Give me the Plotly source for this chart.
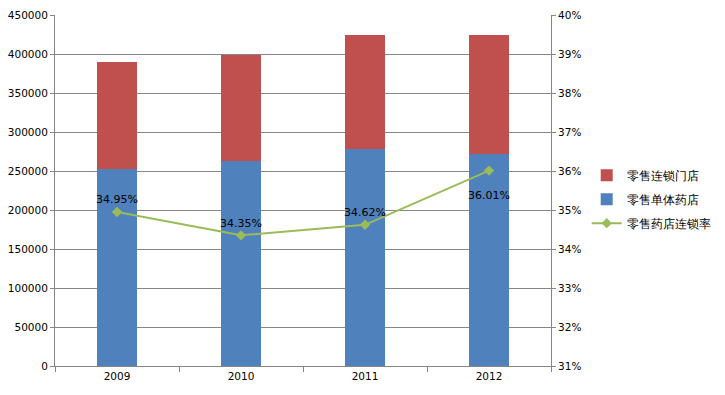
import plotly.graph_objects as go

years = ["2009", "2010", "2011", "2012"]
single_stores = [253200, 262200, 277600, 271700]   # 零售单体药店
chain_stores = [136000, 137100, 147000, 152900]    # 零售连锁门店
chain_rate = [0.3495, 0.3435, 0.3462, 0.3601]      # 零售药店连锁率
rate_labels = ["34.95%", "34.35%", "34.62%", "<br>36.01%"]

FONT = "DejaVu Sans"
GRID = "#868686"

fig = go.Figure()
fig.add_trace(go.Bar(
    x=years, y=single_stores, name="零售单体药店",
    marker=dict(color="#4F81BD", line=dict(width=0)),
    width=0.33, legendrank=2, legendgroup="b",
))
fig.add_trace(go.Bar(
    x=years, y=chain_stores, name="零售连锁门店",
    marker=dict(color="#C0504D", line=dict(width=0)),
    width=0.33, legendrank=1, legendgroup="a",
))
fig.add_trace(go.Scatter(
    x=years, y=chain_rate, name="零售药店连锁率", yaxis="y2",
    mode="lines+markers+text",
    line=dict(color="#9BBB59", width=2),
    marker=dict(symbol="diamond", size=8, color="#9BBB59"),
    text=rate_labels,
    textposition=["top center", "top center", "top center", "bottom center"],
    textfont=dict(family=FONT, size=11, color="#000000"),
    legendrank=3, legendgroup="c",
))

fig.update_layout(
    width=725, height=395,
    margin=dict(l=47, r=182, t=7, b=37, autoexpand=False),
    barmode="stack",
    plot_bgcolor="white", paper_bgcolor="white",
    font=dict(family=FONT, size=10.5, color="#000000"),
    showlegend=True,
    legend=dict(
        x=1.072, y=0.585, xanchor="left", yanchor="top",
        font=dict(family=FONT, size=12),
        tracegroupgap=5, bgcolor="rgba(0,0,0,0)",
    ),
    xaxis=dict(
        type="category", tickson="boundaries",
        ticks="outside", ticklen=5, tickcolor=GRID,
        showline=True, linecolor=GRID, linewidth=1,
        showgrid=False, mirror=False, automargin=False,
        ticklabeloverflow="allow",
    ),
    yaxis=dict(
        range=[0, 450000], dtick=50000,
        ticks="outside", ticklen=4, tickcolor=GRID,
        showline=True, linecolor=GRID, linewidth=1,
        showgrid=True, gridcolor=GRID, gridwidth=1,
        zeroline=False, tickformat="d", automargin=False,
        ticklabeloverflow="allow",
    ),
    yaxis2=dict(
        range=[0.31, 0.40], dtick=0.01, tickformat=".0%",
        overlaying="y", side="right",
        ticks="outside", ticklen=4, tickcolor=GRID,
        showline=True, linecolor=GRID, linewidth=1,
        showgrid=False, zeroline=False, automargin=False,
        ticklabeloverflow="allow",
    ),
)

fig.write_html("out.html")
